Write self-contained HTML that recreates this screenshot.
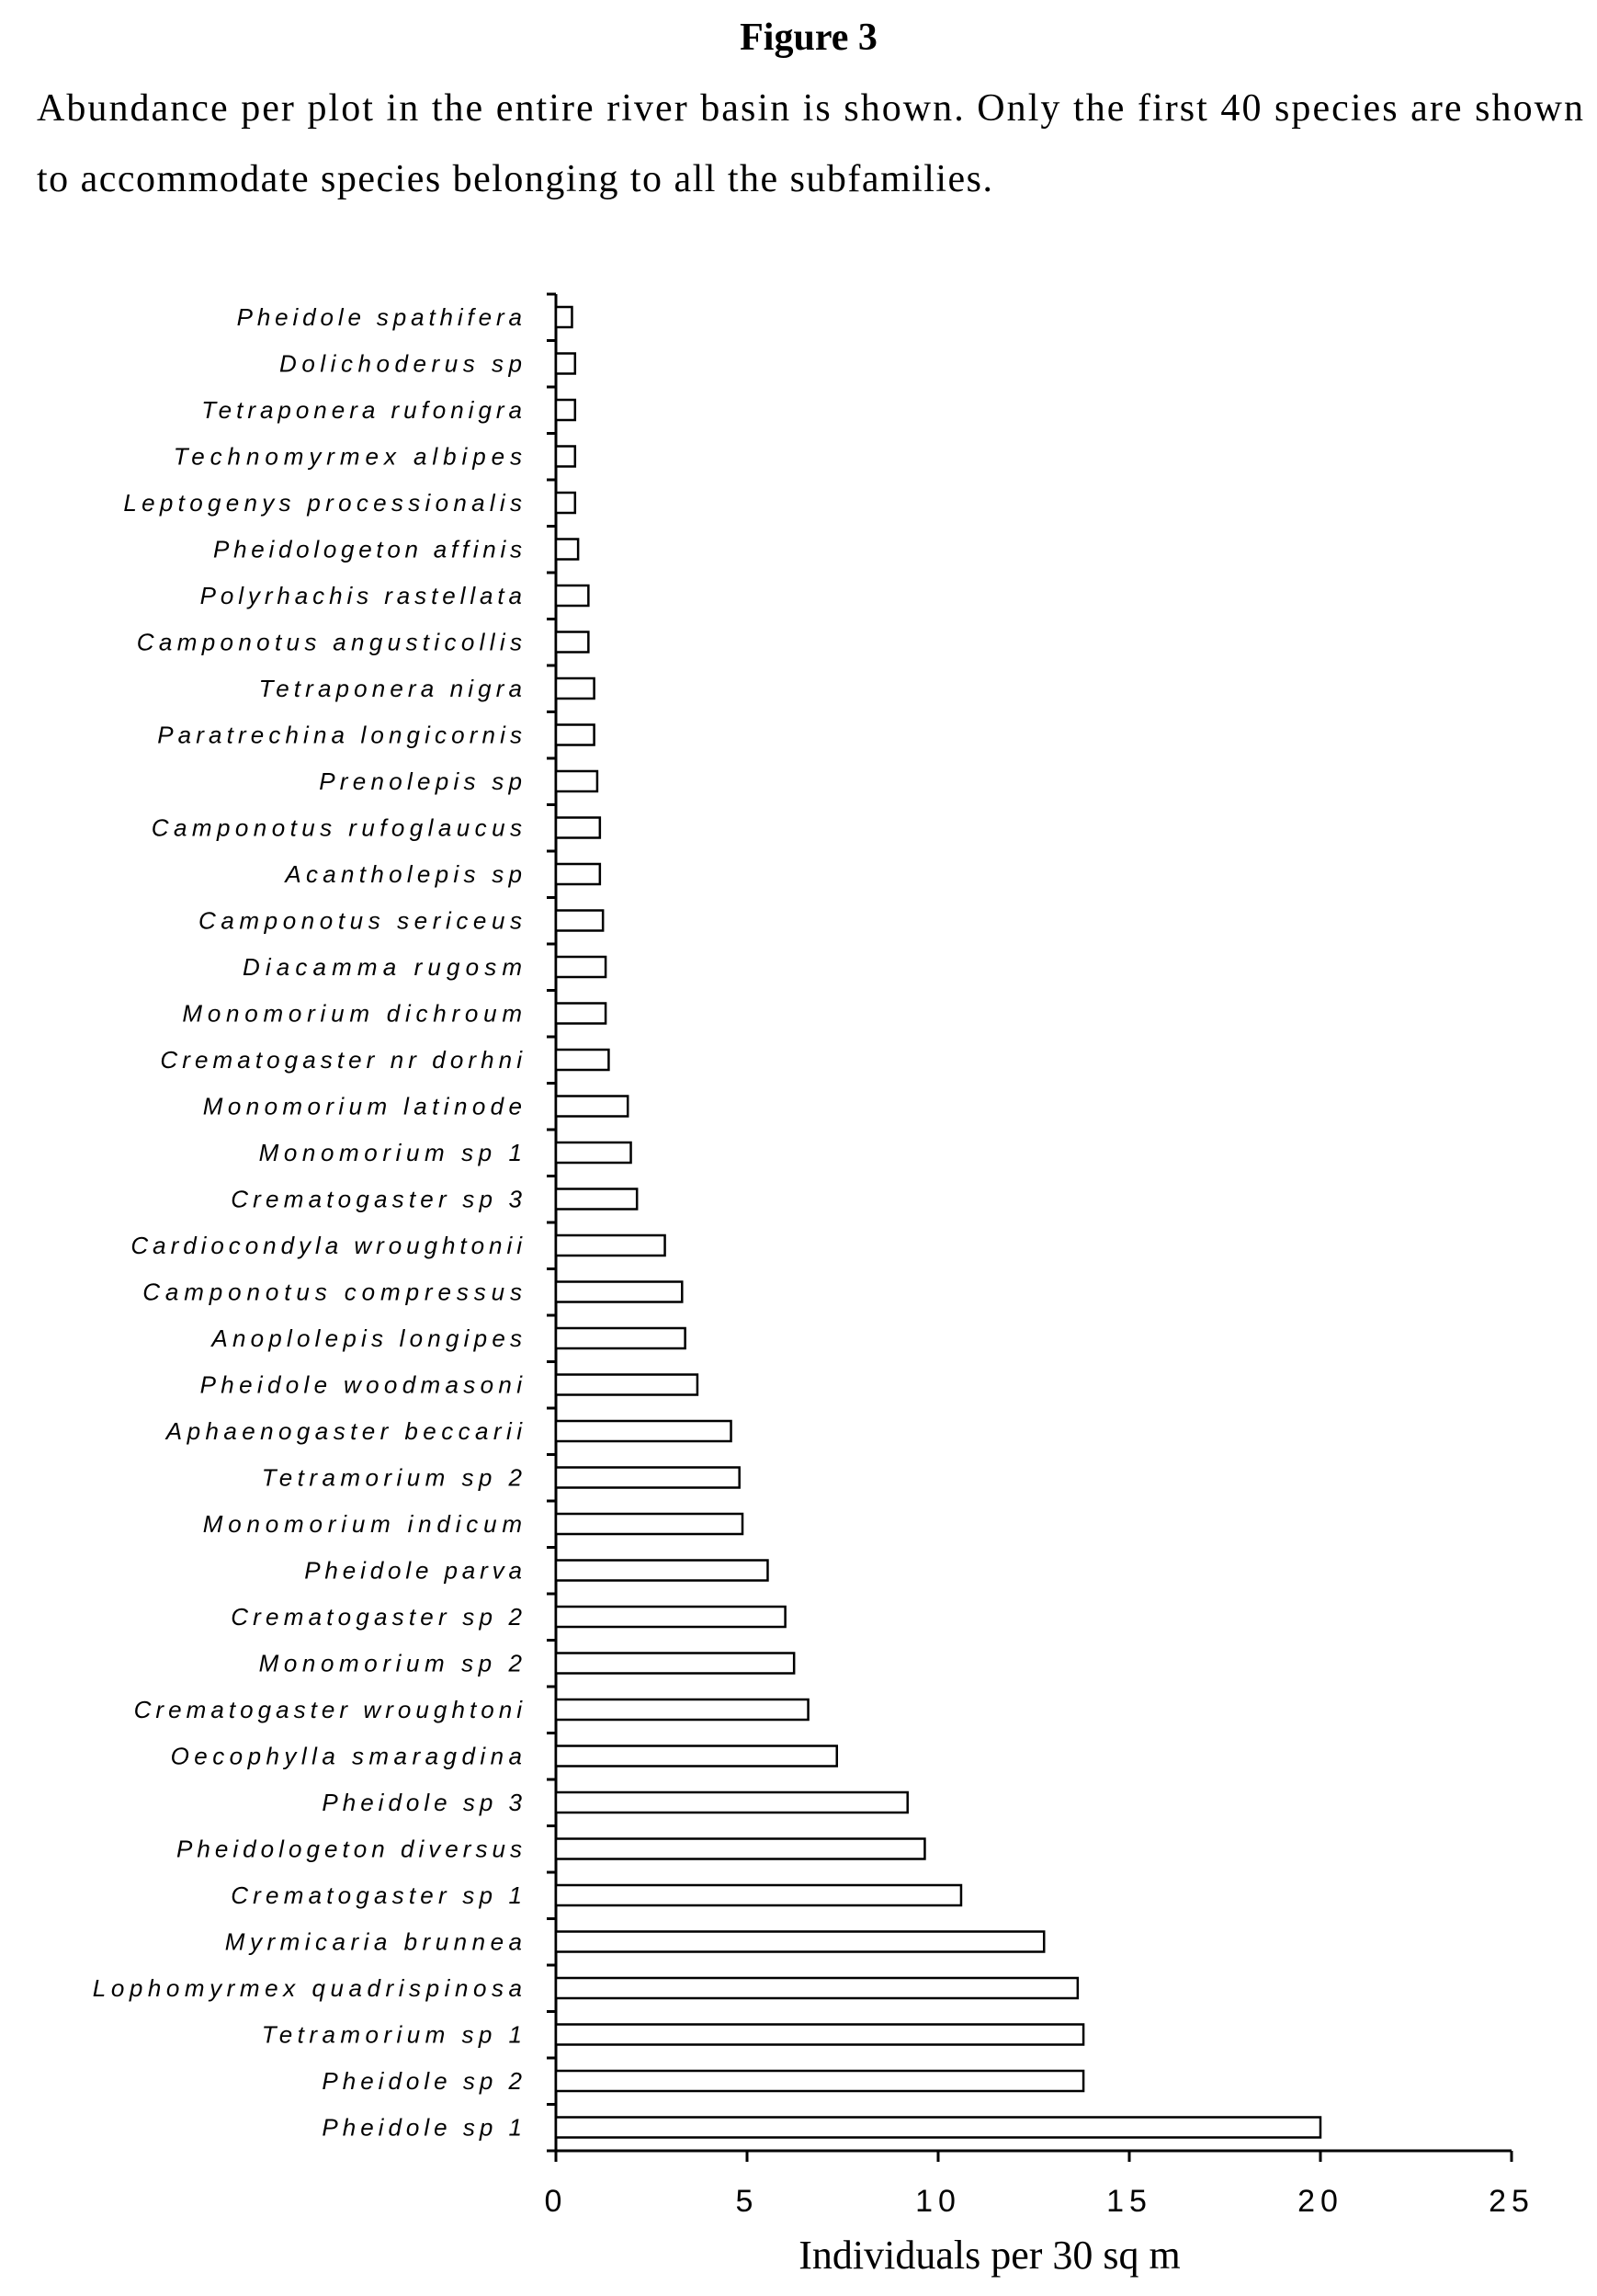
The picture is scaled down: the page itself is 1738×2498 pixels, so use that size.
<!DOCTYPE html>
<html><head><meta charset="utf-8"><style>
html,body{margin:0;padding:0;background:#fff}
svg{display:block}
</style></head><body>
<svg id="s" width="1738" height="2498" xmlns="http://www.w3.org/2000/svg">
<text x="880" y="54" text-anchor="middle" font-family="Liberation Serif, serif" font-weight="bold" font-size="42">Figure 3</text>
<text x="40" y="131" font-family="Liberation Serif, serif" font-size="42" textLength="1683" lengthAdjust="spacing">Abundance per plot in the entire river basin is shown. Only the first 40 species are shown</text>
<text x="40" y="208" font-family="Liberation Serif, serif" font-size="42" textLength="1040" lengthAdjust="spacing">to accommodate species belonging to all the subfamilies.</text>
<text x="1077" y="2468" text-anchor="middle" font-family="Liberation Serif, serif" font-size="44">Individuals per 30 sq m</text>
</svg>
<script>
(function(){
var d=[["Pheidole spathifera",161,0.42],["Dolichoderus sp",190,0.5],["Tetraponera rufonigra",137,0.5],["Technomyrmex albipes",118,0.5],["Leptogenys processionalis",84,0.5],["Pheidologeton affinis",145,0.58],["Polyrhachis rastellata",136,0.85],["Camponotus angusticollis",93,0.85],["Tetraponera nigra",176,1.0],["Paratrechina longicornis",107,1.0],["Prenolepis sp",217,1.08],["Camponotus rufoglaucus",103,1.15],["Acantholepis sp",194,1.15],["Camponotus sericeus",135,1.23],["Diacamma rugosm",165,1.3],["Monomorium dichroum",124,1.3],["Crematogaster nr dorhni",109,1.38],["Monomorium latinode",138,1.88],["Monomorium sp 1",176,1.96],["Crematogaster sp 3",157,2.12],["Cardiocondyla wroughtonii",89,2.85],["Camponotus compressus",97,3.3],["Anoplolepis longipes",144,3.38],["Pheidole woodmasoni",136,3.7],["Aphaenogaster beccarii",113,4.58],["Tetramorium sp 2",178,4.8],["Monomorium indicum",138,4.88],["Pheidole parva",207,5.54],["Crematogaster sp 2",157,6.0],["Monomorium sp 2",176,6.23],["Crematogaster wroughtoni",91,6.6],["Oecophylla smaragdina",116,7.35],["Pheidole sp 3",219,9.2],["Pheidologeton diversus",120,9.65],["Crematogaster sp 1",157,10.6],["Myrmicaria brunnea",153,12.77],["Lophomyrmex quadrispinosa",63,13.65],["Tetramorium sp 1",178,13.8],["Pheidole sp 2",219,13.8],["Pheidole sp 1",219,20]];
var x0=605,u=41.6,ytop=320,bot=2340,step=50.5,c0=345,h="";
h+='<line x1="'+x0+'" y1="'+ytop+'" x2="'+x0+'" y2="'+(bot+10)+'" stroke="#000" stroke-width="3"/>';
h+='<line x1="'+(x0-10)+'" y1="'+bot+'" x2="'+(x0+25*u)+'" y2="'+bot+'" stroke="#000" stroke-width="3"/>';
for(var i=0;i<=40;i++){var ty=ytop+i*step;if(i==40)ty=bot;h+='<line x1="'+(x0-10)+'" y1="'+ty+'" x2="'+x0+'" y2="'+ty+'" stroke="#000" stroke-width="3"/>';}
for(var k=0;k<=5;k++){var tx=x0+k*5*u;h+='<line x1="'+tx+'" y1="'+bot+'" x2="'+tx+'" y2="'+(bot+12)+'" stroke="#000" stroke-width="3"/>';
h+='<text x="'+tx+'" y="2406" text-anchor="middle" font-family="Liberation Sans, sans-serif" font-size="34" letter-spacing="6">'+(k*5)+'</text>';}
d.forEach(function(r,i){var cy=c0+i*step;var w=r[2]*u;
h+='<rect x="'+x0+'" y="'+(cy-11)+'" width="'+w+'" height="22" fill="#fff" stroke="#000" stroke-width="2.5"/>';
var len=(355-r[1])*1.6;
h+='<text x="568" y="'+(cy+9)+'" text-anchor="end" font-family="Liberation Sans, sans-serif" font-style="italic" font-size="26" textLength="'+len+'" lengthAdjust="spacing">'+r[0]+'</text>';});
document.getElementById("s").insertAdjacentHTML("beforeend",h);
})();
</script>
</body></html>
